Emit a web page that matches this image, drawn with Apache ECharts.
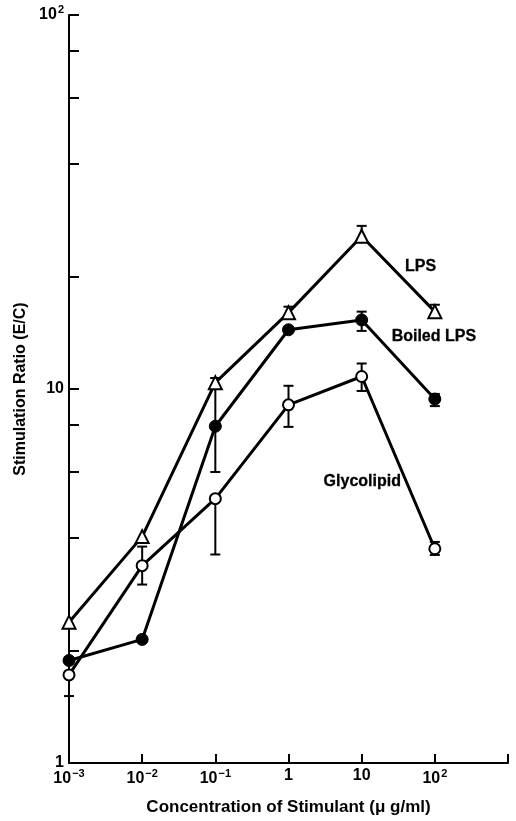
<!DOCTYPE html>
<html>
<head>
<meta charset="utf-8">
<script src="https://cdn.jsdelivr.net/npm/echarts@6/dist/echarts.min.js"></script>
<style>
html, body { margin: 0; padding: 0; background: #ffffff; }
#chart { width: 516px; height: 821px; }
</style>
</head>
<body>
<div id="chart"></div>
<script>
// concentrations of stimulant (ug/ml), x positions of every point
var concentrations = [0.001, 0.01, 0.1, 1, 10, 100];

// LPS (open triangles)
var lpsRatio = [2.38, 4.03, 10.4, 16.0, 25.6, 16.1];
var lpsLow   = [2.38, 4.03, 10.0, 15.4, 25.0, 15.6];
var lpsHigh  = [2.38, 4.03, 10.7, 16.6, 27.3, 16.8];

// Boiled LPS (filled circles)
var boiledRatio = [1.88, 2.14, 7.95, 14.4, 15.3, 9.4];
var boiledLow   = [1.88, 2.14, 6.0, 14.4, 14.3, 9.0];
var boiledHigh  = [1.88, 2.14, 10.7, 14.4, 16.1, 9.7];

// Glycolipid (open circles)
var glycoRatio = [1.72, 3.37, 5.09, 9.07, 10.8, 3.74];
var glycoLow   = [1.51, 3.0, 3.61, 7.92, 9.88, 3.6];
var glycoHigh  = [1.72, 3.79, 5.09, 10.2, 11.7, 3.9];

// curve names written next to the curves, with their anchor in data units
var curveNames = ['LPS', 'Boiled LPS', 'Glycolipid'];
var nameAnchorX = [64, 97, 10.2];
var nameAnchorY = [21.2, 13.8, 5.65];

// ticks and labels
var xTickValues = [0.001, 0.01, 0.1, 1, 10, 100, 1000];
var xLabelValues = [0.001, 0.01, 0.1, 1, 10, 100];
var yTickValues = [1, 2, 4, 6, 8, 10, 20, 40, 60, 80, 100];
var yLabelValues = [1, 10, 100];

var chart = echarts.init(document.getElementById('chart'));
var FONT = '"Liberation Sans", Arial, sans-serif';

function pairs(ys) {
  return concentrations.map(function (c, i) { return [c, ys[i]]; });
}
function bars(lo, hi) {
  return concentrations.map(function (c, i) { return [c, lo[i], hi[i]]; });
}

// error bars with caps
function renderErrorBar(params, api) {
  var lo = api.value(1), hi = api.value(2);
  if (lo === hi) return null;
  var top = api.coord([api.value(0), hi]);
  var bot = api.coord([api.value(0), lo]);
  var w = 5;
  var st = { stroke: '#000', lineWidth: 2 };
  return {
    type: 'group',
    children: [
      { type: 'line', shape: { x1: top[0], y1: top[1], x2: bot[0], y2: bot[1] }, style: st },
      { type: 'line', shape: { x1: top[0] - w, y1: top[1], x2: top[0] + w, y2: top[1] }, style: st },
      { type: 'line', shape: { x1: bot[0] - w, y1: bot[1], x2: bot[0] + w, y2: bot[1] }, style: st }
    ]
  };
}

var richSup = {
  b: { fontFamily: FONT, fontWeight: 'bold', fontSize: 16, color: '#000' },
  s: { fontFamily: FONT, fontWeight: 'bold', fontSize: 11, color: '#000', padding: [0, 0, 10, 1] }
};

function powLabel(v) {
  var e = Math.round(Math.log10(v));
  if (e === 0) return '{b|1}';
  if (e === 1) return '{b|10}';
  return '{b|10}{s|' + (e < 0 ? '\u2212' + (-e) : e) + '}';
}

var nameData = curveNames.map(function (n, i) { return { value: [nameAnchorX[i], nameAnchorY[i]], name: n }; });

var option = {
  animation: false,
  backgroundColor: '#ffffff',
  grid: { left: 69, right: 8, top: 15, bottom: 56 },
  xAxis: {
    type: 'log',
    logBase: 10,
    min: 0.001,
    max: 1000,
    name: 'Concentration of Stimulant (\u03bc g/ml)',
    nameLocation: 'middle',
    nameGap: 36,
    nameTextStyle: { fontFamily: FONT, fontWeight: 'bold', fontSize: 17, color: '#000' },
    axisLine: { lineStyle: { color: '#000', width: 2 } },
    axisTick: { show: true, inside: true, length: 9, lineStyle: { color: '#000', width: 2 }, customValues: xTickValues },
    axisLabel: { customValues: xLabelValues, margin: 5, formatter: powLabel, rich: richSup },
    splitLine: { show: false },
    minorTick: { show: false }
  },
  yAxis: {
    type: 'log',
    logBase: 10,
    min: 1,
    max: 100,
    name: 'Stimulation Ratio (E/C)',
    nameLocation: 'middle',
    nameRotate: 90,
    nameGap: 40,
    nameTextStyle: { fontFamily: FONT, fontWeight: 'bold', fontSize: 16, color: '#000' },
    axisLine: { show: true, lineStyle: { color: '#000', width: 2 } },
    axisTick: { show: true, inside: true, length: 10, lineStyle: { color: '#000', width: 2 }, customValues: yTickValues },
    axisLabel: { customValues: yLabelValues, margin: 5, formatter: powLabel, rich: richSup },
    splitLine: { show: false },
    minorTick: { show: false }
  },
  series: [
    { type: 'custom', name: 'LPS err', renderItem: renderErrorBar, data: bars(lpsLow, lpsHigh), z: 1, silent: true },
    { type: 'custom', name: 'Boiled err', renderItem: renderErrorBar, data: bars(boiledLow, boiledHigh), z: 1, silent: true },
    { type: 'custom', name: 'Glyco err', renderItem: renderErrorBar, data: bars(glycoLow, glycoHigh), z: 1, silent: true },
    {
      name: 'LPS', type: 'line', data: pairs(lpsRatio), z: 3,
      symbol: 'triangle', symbolSize: 13, showSymbol: true,
      lineStyle: { color: '#000', width: 3 },
      itemStyle: { color: '#fff', borderColor: '#000', borderWidth: 2 }
    },
    {
      name: 'Boiled LPS', type: 'line', data: pairs(boiledRatio), z: 3,
      symbol: 'circle', symbolSize: 12, showSymbol: true,
      lineStyle: { color: '#000', width: 3 },
      itemStyle: { color: '#000', borderColor: '#000', borderWidth: 1 }
    },
    {
      name: 'Glycolipid', type: 'line', data: pairs(glycoRatio), z: 3,
      symbol: 'circle', symbolSize: 11, showSymbol: true,
      lineStyle: { color: '#000', width: 3 },
      itemStyle: { color: '#fff', borderColor: '#000', borderWidth: 2 }
    },
    {
      name: 'curve names', type: 'scatter', data: nameData, z: 4, silent: true,
      symbolSize: 1,
      itemStyle: { color: 'rgba(0,0,0,0)' },
      label: {
        show: true, position: 'inside', color: '#000', opacity: 1,
        fontFamily: FONT, fontWeight: 'bold', fontSize: 16,
        textBorderColor: '#000', textBorderWidth: 0.3,
        formatter: function (p) { return p.name; }
      }
    }
  ]
};

chart.setOption(option);
window.addEventListener('resize', function () { chart.resize(); });
</script>
</body>
</html>
